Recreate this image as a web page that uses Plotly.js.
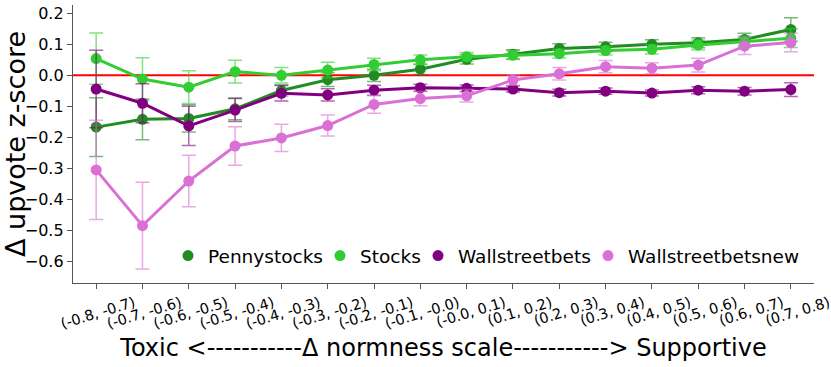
<!DOCTYPE html>
<html>
<head>
<meta charset="utf-8">
<script src="https://cdn.plot.ly/plotly-3.0.1.min.js"></script>
<style>
  html, body { margin: 0; padding: 0; background: #fff; }
  #chart { width: 831px; height: 367px; }
</style>
</head>
<body>
<div id="chart"></div>
<script>
// bins of the normness difference
var bins = ["(-0.8, -0.7)", "(-0.7, -0.6)", "(-0.6, -0.5)", "(-0.5, -0.4)", "(-0.4, -0.3)",
            "(-0.3, -0.2)", "(-0.2, -0.1)", "(-0.1, -0.0)", "(-0.0, 0.1)", "(0.1, 0.2)",
            "(0.2, 0.3)", "(0.3, 0.4)", "(0.4, 0.5)", "(0.5, 0.6)", "(0.6, 0.7)", "(0.7, 0.8)"];

var pennyMean = [-0.167, -0.142, -0.139, -0.108, -0.049, -0.014, 0.000, 0.020, 0.052, 0.068, 0.087, 0.092, 0.100, 0.105, 0.116, 0.148];
var pennyErr  = [0.095, 0.066, 0.044, 0.035, 0.018, 0.022, 0.020, 0.017, 0.015, 0.015, 0.015, 0.015, 0.015, 0.016, 0.020, 0.038];

var stocksMean = [0.054, -0.012, -0.038, 0.012, 0.000, 0.017, 0.035, 0.050, 0.060, 0.065, 0.070, 0.080, 0.084, 0.098, 0.108, 0.120];
var stocksErr  = [0.083, 0.069, 0.053, 0.037, 0.025, 0.025, 0.020, 0.016, 0.014, 0.014, 0.014, 0.014, 0.015, 0.016, 0.018, 0.030];

var wsbMean = [-0.044, -0.090, -0.163, -0.112, -0.058, -0.063, -0.048, -0.040, -0.042, -0.044, -0.056, -0.051, -0.057, -0.048, -0.051, -0.046];
var wsbErr  = [0.125, 0.063, 0.063, 0.037, 0.025, 0.020, 0.016, 0.011, 0.011, 0.010, 0.011, 0.010, 0.010, 0.011, 0.012, 0.022];

var wsbNewMean = [-0.305, -0.485, -0.341, -0.228, -0.202, -0.162, -0.094, -0.075, -0.066, -0.015, 0.005, 0.028, 0.023, 0.033, 0.094, 0.106];
var wsbNewErr  = [0.160, 0.140, 0.083, 0.062, 0.044, 0.034, 0.028, 0.023, 0.020, 0.017, 0.020, 0.020, 0.018, 0.022, 0.027, 0.030];

var names  = ["Pennystocks", "Stocks", "Wallstreetbets", "Wallstreetbetsnew"];
var colors = ["#228B22", "#32CD32", "#800080", "#DA70D6"];
var errColors = ["rgba(34,139,34,0.6)", "rgba(50,205,50,0.6)", "rgba(128,0,128,0.6)", "rgba(218,112,214,0.6)"];
var means = [pennyMean, stocksMean, wsbMean, wsbNewMean];
var errs  = [pennyErr, stocksErr, wsbErr, wsbNewErr];

// one small legend per series so the entries sit where the original has them
var legendIds = ["legend", "legend2", "legend3", "legend4"];
var legendLeft = [168, 320, 418, 588];   // px from the page's left edge

var data = [];
for (var i = 0; i < names.length; i++) {
    data.push({
        x: bins, y: means[i], name: names[i], legendgroup: names[i],
        type: "scatter", mode: "lines+markers", showlegend: false,
        line: { color: colors[i], width: 3 },
        marker: { color: colors[i], size: 11 },
        error_y: { type: "data", array: errs[i], visible: true, color: errColors[i], thickness: 1.5, width: 7 }
    });
}
// legend entries only show a dot
for (var i = 0; i < names.length; i++) {
    data.push({
        x: [null], y: [null], name: names[i], legendgroup: names[i], legend: legendIds[i],
        type: "scatter", mode: "markers",
        marker: { color: colors[i], size: 11 }
    });
}

var plotL = 73, plotW = 831 - 73 - 17;

var layout = {
    width: 831, height: 367,
    margin: { l: plotL, r: 17, t: 5, b: 84 },
    paper_bgcolor: "#fff", plot_bgcolor: "#fff",
    font: { family: "DejaVu Sans", color: "#000" },
    showlegend: true,
    xaxis: {
        type: "category", range: [-0.5, 15.5],
        showline: true, linecolor: "#555", linewidth: 1.2, mirror: false,
        ticks: "outside", ticklen: 5, tickcolor: "#555",
        tickangle: -17, ticklabelshift: 38, showgrid: false, zeroline: false,
        tickfont: { family: "DejaVu Sans", size: 14.5 },
        title: { text: "Toxic <-----------Δ normness scale-----------> Supportive",
                 font: { family: "DejaVu Sans", size: 24 }, standoff: 8 }
    },
    yaxis: {
        range: [-0.67, 0.227],
        showline: true, linecolor: "#555", linewidth: 1.2,
        ticks: "outside", ticklen: 5, tickcolor: "#555",
        tickvals: [-0.6, -0.5, -0.4, -0.3, -0.2, -0.1, 0, 0.1, 0.2], tickformat: ".1f",
        showgrid: false, zeroline: false,
        tickfont: { size: 16 },
        title: { text: "Δ upvote z-score", font: { size: 27 }, standoff: 6 }
    },
    shapes: [{
        type: "line", xref: "paper", x0: 0, x1: 1, yref: "y", y0: 0, y1: 0,
        line: { color: "red", width: 2 }, layer: "below"
    }]
};

for (var i = 0; i < legendIds.length; i++) {
    layout[legendIds[i]] = {
        x: (legendLeft[i] - plotL) / plotW, xanchor: "left",
        y: 0.097, yanchor: "middle",
        font: { size: 18.5 }, bgcolor: "rgba(0,0,0,0)", itemwidth: 30
    };
}

Plotly.newPlot("chart", data, layout, { displayModeBar: false, staticPlot: true });
</script>
</body>
</html>
